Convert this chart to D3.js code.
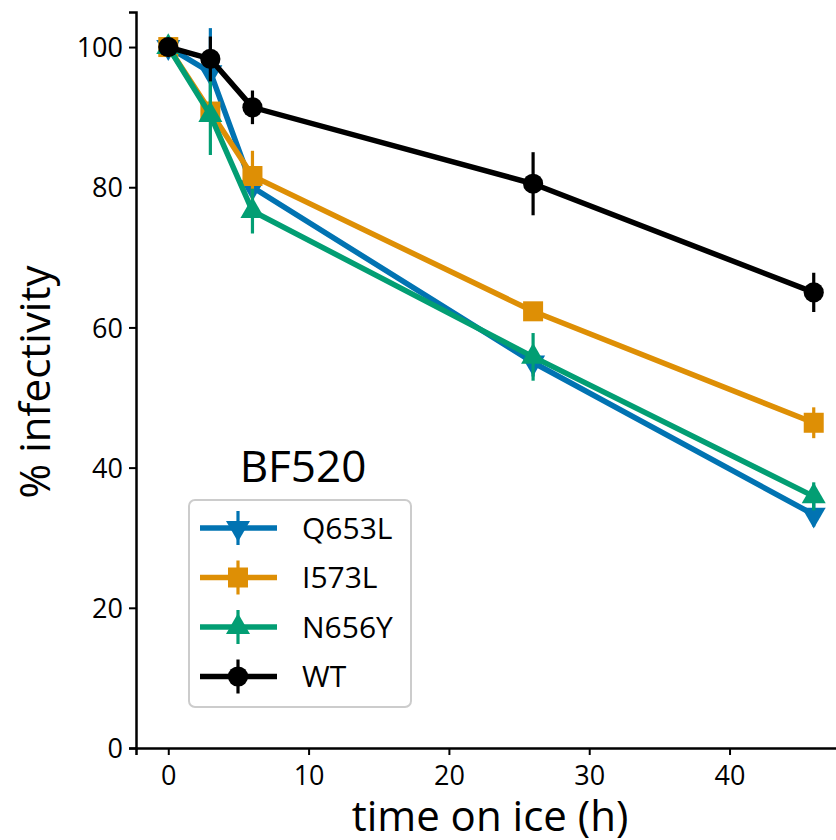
<!DOCTYPE html>
<html>
<head>
<meta charset="utf-8">
<script src="https://cdn.jsdelivr.net/npm/d3@7"></script>
<style>
  body { margin: 0; background: #fff; }
  svg { display: block; font-family: "Open Sans", "Noto Sans", sans-serif; }
</style>
</head>
<body>
<svg id="chart" width="836" height="840"></svg>
<script>
// data
let times = [0, 3, 6, 26, 46];
let seriesNames = ["Q653L", "I573L", "N656Y", "WT"];
let q653l = [100, 96.4, 80.0, 55.0, 33.3];
let q653lErr = [0, 6.3, 1.5, 2.0, 1.7];
let i573l = [100, 90.8, 81.6, 62.3, 46.4];
let i573lErr = [0, 1.5, 3.6, 1.0, 2.2];
let n656y = [100, 90.3, 76.6, 55.8, 35.9];
let n656yErr = [0, 5.7, 3.2, 3.4, 2.0];
let wt = [100, 98.3, 91.4, 80.5, 65.0];
let wtErr = [0, 3.2, 2.4, 4.5, 2.8];
let xTicks = [0, 10, 20, 30, 40];
let yTicks = [0, 20, 40, 60, 80, 100];

let colors = ["#0173b2", "#de8f05", "#029e73", "#000000"];
let symbols = [d3.symbolTriangle, d3.symbolSquare, d3.symbolTriangle, d3.symbolCircle];
let rotations = [180, 0, 0, 0];
let symSizes = [250, 400, 250, 320];

let series = [
  {name: seriesNames[0], vals: q653l, err: q653lErr},
  {name: seriesNames[1], vals: i573l, err: i573lErr},
  {name: seriesNames[2], vals: n656y, err: n656yErr},
  {name: seriesNames[3], vals: wt, err: wtErr}
];

let svg = d3.select("#chart");

let x = d3.scaleLinear().domain([-2.3, 48.3]).range([136, 846]);
let y = d3.scaleLinear().domain([0, 105]).range([748, 12]);

// axes
let xAxis = svg.append("g")
  .attr("transform", "translate(0,748)")
  .call(d3.axisBottom(x).tickValues(xTicks).tickSize(7).tickPadding(8).tickFormat(d3.format("d")));
let yAxis = svg.append("g")
  .attr("transform", "translate(136,0)")
  .call(d3.axisLeft(y).tickValues(yTicks).tickSize(7).tickPadding(6).tickFormat(d3.format("d")));

[xAxis, yAxis].forEach(a => {
  a.select(".domain").attr("stroke", "#000").attr("stroke-width", 2.5);
  a.selectAll(".tick line").attr("stroke", "#000").attr("stroke-width", 2);
  a.selectAll(".tick text")
    .attr("fill", "#000")
    .style("font-size", "27px")
    .style("font-family", "'Open Sans', sans-serif");
});
yAxis.selectAll(".tick text").attr("dy", "0.36em");
xAxis.selectAll(".tick text").attr("dy", "0.82em");

svg.append("text")
  .attr("x", 490).attr("y", 831)
  .attr("text-anchor", "middle")
  .style("font-size", "42px")
  .text("time on ice (h)");

svg.append("text")
  .attr("transform", "translate(50,382) rotate(-90)")
  .attr("text-anchor", "middle")
  .style("font-size", "42px")
  .text("% infectivity");

let line = d3.line().x((d, i) => x(times[i])).y(d => y(d));

let groups = svg.selectAll("g.series")
  .data(series)
  .enter()
  .append("g")
  .attr("class", "series");

groups.append("path")
  .attr("d", d => line(d.vals))
  .attr("fill", "none")
  .attr("stroke", (d, i) => colors[i])
  .attr("stroke-width", 5.5)
  .attr("stroke-linejoin", "round");

groups.each(function(s, si) {
  let g = d3.select(this);
  g.selectAll("line.err")
    .data(s.vals)
    .enter()
    .append("line")
    .attr("class", "err")
    .attr("x1", (d, i) => x(times[i]))
    .attr("x2", (d, i) => x(times[i]))
    .attr("y1", (d, i) => y(d - s.err[i]))
    .attr("y2", (d, i) => y(d + s.err[i]))
    .attr("stroke", colors[si])
    .attr("stroke-width", 3.2);
  g.selectAll("path.mark")
    .data(s.vals)
    .enter()
    .append("path")
    .attr("class", "mark")
    .attr("d", d3.symbol().type(symbols[si]).size(symSizes[si]))
    .attr("transform", (d, i) => "translate(" + x(times[i]) + "," + y(d) + ") rotate(" + rotations[si] + ")")
    .attr("fill", colors[si]);
});

// legend
svg.append("text")
  .attr("x", 303).attr("y", 482)
  .attr("text-anchor", "middle")
  .style("font-size", "44px")
  .text("BF520");

svg.append("rect")
  .attr("x", 189).attr("y", 500)
  .attr("width", 222).attr("height", 207)
  .attr("rx", 6)
  .attr("fill", "#fff")
  .attr("fill-opacity", 0.8)
  .attr("stroke", "#cccccc")
  .attr("stroke-width", 2);

let legendItem = svg.selectAll("g.legend-item")
  .data(series)
  .enter()
  .append("g")
  .attr("class", "legend-item")
  .attr("transform", (d, i) => "translate(0," + (528 + i * 49.5) + ")");

legendItem.append("line")
  .attr("x1", 200).attr("x2", 277)
  .attr("stroke", (d, i) => colors[i])
  .attr("stroke-width", 5.5);
legendItem.append("line")
  .attr("x1", 238).attr("x2", 238)
  .attr("y1", -17).attr("y2", 17)
  .attr("stroke", (d, i) => colors[i])
  .attr("stroke-width", 3.2);
legendItem.append("path")
  .attr("d", (d, i) => d3.symbol().type(symbols[i]).size(symSizes[i])())
  .attr("transform", (d, i) => "translate(238,0) rotate(" + rotations[i] + ")")
  .attr("fill", (d, i) => colors[i]);
legendItem.append("text")
  .attr("x", 302).attr("dy", "0.36em")
  .style("font-size", "30px")
  .text(d => d.name);
</script>
</body>
</html>
